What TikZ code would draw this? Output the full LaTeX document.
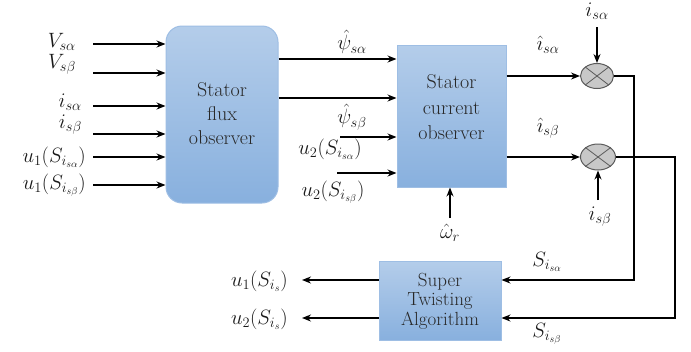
\documentclass[tikz,border=0pt]{standalone}
\usetikzlibrary{arrows.meta,shapes.geometric}
\definecolor{boxtop}{RGB}{180,205,234}
\definecolor{boxbot}{RGB}{136,176,222}
\definecolor{boxline}{RGB}{158,190,228}
\definecolor{txt}{RGB}{40,40,40}
\definecolor{sumfill}{RGB}{200,200,200}
\definecolor{sumline}{RGB}{90,90,90}
\begin{document}
\begin{tikzpicture}[x=1pt,y=-1pt,
  blk/.style={draw=boxline, line width=1pt, top color=boxtop, bottom color=boxbot, inner sep=0pt},
  btxt/.style={align=center, text=txt, font=\fontsize{20}{24}\selectfont, inner sep=0pt},
  arr/.style={-{Stealth[length=9pt,width=7pt]}, line width=1.4pt},
  ln/.style={line width=1.4pt},
  sumj/.style={ellipse, draw=sumline, fill=sumfill, minimum width=33pt, minimum height=25pt, inner sep=0pt, line width=1pt},
  lbl/.style={font=\fontsize{20}{22}\selectfont, inner sep=0pt, text=black!90}
]
\useasboundingbox (0,0) rectangle (691,351);

% blocks
\node[blk, rounded corners=16pt, minimum width=112pt, minimum height=177pt] (flux) at (222,114.5) {};
\node[btxt] (fluxt) at (222,113.5) {Stator\\flux\\observer};
\node[blk, minimum width=109pt, minimum height=142pt] (cur) at (451.5,116) {};
\node[btxt, font=\fontsize{20}{25.5}\selectfont] (curt) at (451.5,107.5) {Stator\\current\\observer};
\node[blk, minimum width=122pt, minimum height=79pt] (st) at (440,300.5) {};
\node[btxt, font=\fontsize{19}{19.5}\selectfont] (stt) at (440,301) {Super\\Twisting\\Algorithm};

% inputs to flux observer
\coordinate (a1) at (93,44);
\coordinate (a2) at (93,73);
\coordinate (a3) at (93,106);
\coordinate (a4) at (93,134);
\coordinate (a5) at (93,157);
\coordinate (a6) at (93,185);
\foreach \c in {a1,a2,a3,a4,a5,a6} \draw[arr] (\c) -- (\c -| flux.west);
\node[lbl, anchor=east] (l1) at (76,42) {$V_{s\alpha}$};
\node[lbl, anchor=east] (l2) at (76,64) {$V_{s\beta}$};
\node[lbl, anchor=east] (l3) at (82,102) {$i_{s\alpha}$};
\node[lbl, anchor=east] (l4) at (82,125) {$i_{s\beta}$};
\node[lbl, anchor=east] (l5) at (86,157) {$u_1(S_{i_{s\alpha}})$};
\node[lbl, anchor=east] (l6) at (86,185) {$u_1(S_{i_{s\beta}})$};

% flux -> current
\coordinate (p1) at (0,59);
\coordinate (p2) at (0,98);
\draw[arr] (flux.east |- p1) -- (cur.west |- p1);
\draw[arr] (flux.east |- p2) -- (cur.west |- p2);
\node[lbl] (psa) at (352,42) {$\hat{\psi}_{s\alpha}$};
\node[lbl] (psb) at (352,117) {$\hat{\psi}_{s\beta}$};

% u2 inputs
\coordinate (b1) at (340,137);
\coordinate (b2) at (337,173);
\draw[arr] (b1) -- (b1 -| cur.west);
\draw[arr] (b2) -- (b2 -| cur.west);
\node[lbl] (u2a) at (330,149) {$u_2(S_{i_{s\alpha}})$};
\node[lbl] (u2b) at (333,192) {$u_2(S_{i_{s\beta}})$};

% omega
\coordinate (w) at (450,218);
\draw[arr] (w) -- (w |- cur.south);
\node[lbl] (wl) at (450,233) {$\hat{\omega}_r$};

% summing junctions
\node[sumj] (s1) at (597,76) {};
\node[sumj, minimum width=35pt, minimum height=26pt] (s2) at (598,157) {};
\foreach \s in {s1,s2} {
  \draw[sumline, line width=0.8pt] (\s.north east) -- (\s.south west);
  \draw[sumline, line width=0.8pt] (\s.north west) -- (\s.south east);
}
\draw[arr] (cur.east |- s1) -- (s1.west);
\draw[arr] (cur.east |- s2) -- (s2.west);
\node[lbl] (ia) at (548,45) {$\hat{\imath}_{s\alpha}$};
\node[lbl] (ib) at (548,128) {$\hat{\imath}_{s\beta}$};

\coordinate (t1) at (597,27);
\draw[arr] (t1) -- (s1.north);
\node[lbl] (ta) at (597,11) {$i_{s\alpha}$};
\coordinate (t2) at (598,200);
\draw[arr] (t2) -- (s2.south);
\node[lbl] (tb) at (600,217) {$i_{s\beta}$};

% feedback to super twisting
\coordinate (q1) at (634,280);
\coordinate (q2) at (675,318);
\draw[arr] (s1.east) -| (q1) -- (q1 -| st.east);
\draw[arr] (s2.east) -| (q2) -- (q2 -| st.east);
\node[lbl] (sa) at (547,262) {$S_{i_{s\alpha}}$};
\node[lbl] (sb) at (547,334) {$S_{i_{s\beta}}$};

% outputs
\coordinate (o1) at (302,280);
\coordinate (o2) at (302,318);
\draw[arr] (st.west |- o1) -- (o1);
\draw[arr] (st.west |- o2) -- (o2);
\node[lbl, anchor=east] (ou1) at (288,281) {$u_1(S_{i_s})$};
\node[lbl, anchor=east] (ou2) at (288,319) {$u_2(S_{i_s})$};
\end{tikzpicture}
\end{document}
